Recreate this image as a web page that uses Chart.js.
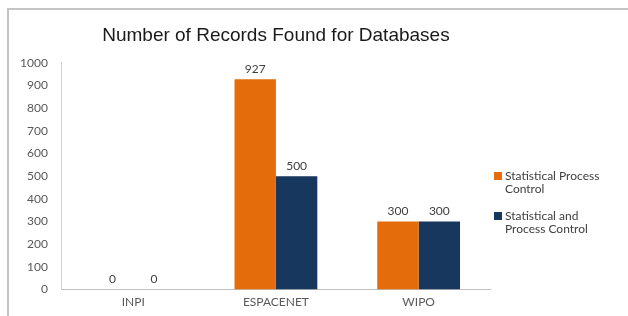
<!DOCTYPE html>
<html lang="en">
<head>
  <meta charset="UTF-8">
  <title>Number of Records Found for Databases</title>
  <script src="https://cdn.jsdelivr.net/npm/chart.js"></script>
  <style>
    body {
      margin: 0;
      background: #fff;
      overflow: hidden;
    }

    .wrap {
      position: relative;
      width: 628px;
      height: 316px;
    }

    .frame {
      position: absolute;
      left: 7px;
      top: 8px;
      width: 640px;
      height: 330px;
      border: 2px solid #c4c4c4;
    }

    canvas {
      position: absolute;
      left: 0;
      top: 0;
    }
  </style>
</head>
<body>

  <div class="wrap">
    <div class="frame"></div>
    <canvas id="recordsChart" width="628" height="316"></canvas>
  </div>

  <script>
    const databases = ['INPI', 'ESPACENET', 'WIPO'];
    const seriesNames = ['Statistical Process Control', 'Statistical and Process Control'];
    const spcRecords = [0, 927, 300];
    const sapcRecords = [0, 500, 300];
    const seriesColors = ['#e46c0a', '#17375e'];
    const yTicks = [0, 100, 200, 300, 400, 500, 600, 700, 800, 900, 1000];

    const labelFont = 'Lato, "Open Sans", sans-serif';

    // value printed above each bar
    const valueLabels = {
      id: 'valueLabels',
      afterDatasetsDraw(chart) {
        const ctx = chart.ctx;
        ctx.save();
        ctx.font = '12px ' + labelFont;
        ctx.fillStyle = '#404040';
        ctx.textAlign = 'center';
        ctx.textBaseline = 'bottom';
        chart.data.datasets.forEach((ds, i) => {
          chart.getDatasetMeta(i).data.forEach((bar, j) => {
            ctx.fillText(String(ds.data[j]), bar.x, bar.y - 4);
          });
        });
        ctx.restore();
      }
    };

    // legend on the right with wrapped labels
    const sideLegend = {
      id: 'sideLegend',
      afterDraw(chart) {
        const ctx = chart.ctx;
        const x = chart.chartArea.right + 4;
        const maxW = 105;
        const rowY = [176, 216];
        ctx.save();
        ctx.font = '12px ' + labelFont;
        ctx.textBaseline = 'middle';
        chart.data.datasets.forEach((ds, i) => {
          const words = ds.label.split(' ');
          const lines = [];
          let line = '';
          words.forEach(w => {
            const test = line ? line + ' ' + w : w;
            if (ctx.measureText(test).width > maxW && line) {
              lines.push(line);
              line = w;
            } else {
              line = test;
            }
          });
          lines.push(line);
          ctx.fillStyle = ds.backgroundColor;
          ctx.fillRect(x, rowY[i] - 4, 8, 8);
          ctx.fillStyle = '#404040';
          lines.forEach((l, k) => ctx.fillText(l, x + 11, rowY[i] + k * 13));
        });
        ctx.restore();
      }
    };

    new Chart(document.getElementById('recordsChart'), {
      type: 'bar',
      data: {
        labels: databases,
        datasets: [{
          label: seriesNames[0],
          data: spcRecords,
          backgroundColor: seriesColors[0],
          categoryPercentage: 0.58,
          barPercentage: 1.0
        }, {
          label: seriesNames[1],
          data: sapcRecords,
          backgroundColor: seriesColors[1],
          categoryPercentage: 0.58,
          barPercentage: 1.0
        }]
      },
      options: {
        responsive: false,
        animation: false,
        layout: {
          padding: { left: 6, right: 138, top: 0, bottom: 2 }
        },
        plugins: {
          legend: { display: false },
          tooltip: { enabled: false },
          title: {
            display: true,
            fullSize: false,
            text: 'Number of Records Found for Databases',
            color: '#1a1a1a',
            font: { family: '"Liberation Sans", Arial, sans-serif', size: 19, weight: 'normal' },
            padding: { top: 24, bottom: 16 }
          }
        },
        scales: {
          x: {
            grid: { display: false, drawTicks: false },
            border: { color: '#bfbfbf' },
            ticks: {
              color: '#595959',
              padding: 5,
              font: { family: labelFont, size: 12 }
            }
          },
          y: {
            min: 0,
            max: 1000,
            afterBuildTicks: axis => {
              axis.ticks = yTicks.map(v => ({ value: v }));
            },
            grid: { display: false, drawTicks: false },
            border: { color: '#d0d0d0' },
            ticks: {
              color: '#595959',
              padding: 14,
              font: { family: labelFont, size: 12 },
              callback: value => String(value)
            }
          }
        }
      },
      plugins: [valueLabels, sideLegend]
    });
  </script>

</body>
</html>
